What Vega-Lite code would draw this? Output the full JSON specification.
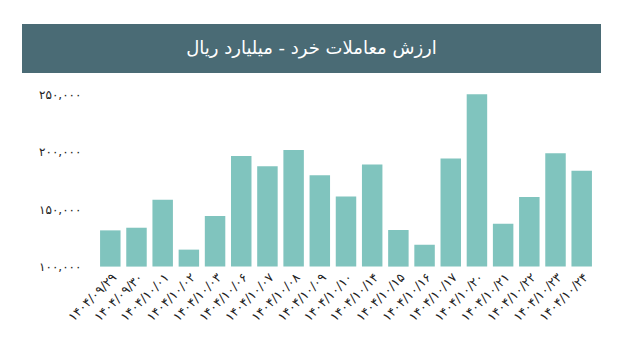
{
  "$schema": "https://vega.github.io/schema/vega-lite/v6.json",
  "background": "white",
  "padding": {"left": 22, "top": 24, "right": 0, "bottom": 0},
  "config": {
    "view": {"stroke": null},
    "font": "DejaVu Sans"
  },
  "spacing": 21.6,
  "bounds": "flush",
  "vconcat": [
    {
      "width": 579,
      "height": 49,
      "view": {"fill": "#4a6b75", "stroke": null},
      "data": {"values": [{"title": "ارزش معاملات خرد - میلیارد ریال"}]},
      "mark": {"type": "text", "color": "white", "fontSize": 18, "font": "DejaVu Sans"},
      "encoding": {"text": {"field": "title", "type": "nominal"}}
    },
    {
      "width": 573,
      "height": 172,
      "data": {
        "values": [
          {"date": "۱۴۰۴/۰۹/۲۹", "value": 131600},
          {"date": "۱۴۰۴/۰۹/۳۰", "value": 133900},
          {"date": "۱۴۰۴/۱۰/۰۱", "value": 158300},
          {"date": "۱۴۰۴/۱۰/۰۲", "value": 114800},
          {"date": "۱۴۰۴/۱۰/۰۳", "value": 144100},
          {"date": "۱۴۰۴/۱۰/۰۶", "value": 196500},
          {"date": "۱۴۰۴/۱۰/۰۷", "value": 187600},
          {"date": "۱۴۰۴/۱۰/۰۸", "value": 201700},
          {"date": "۱۴۰۴/۱۰/۰۹", "value": 179700},
          {"date": "۱۴۰۴/۱۰/۱۰", "value": 161100},
          {"date": "۱۴۰۴/۱۰/۱۴", "value": 189000},
          {"date": "۱۴۰۴/۱۰/۱۵", "value": 131900},
          {"date": "۱۴۰۴/۱۰/۱۶", "value": 119100},
          {"date": "۱۴۰۴/۱۰/۱۷", "value": 194200},
          {"date": "۱۴۰۴/۱۰/۲۰", "value": 250400},
          {"date": "۱۴۰۴/۱۰/۲۱", "value": 137400},
          {"date": "۱۴۰۴/۱۰/۲۲", "value": 160600},
          {"date": "۱۴۰۴/۱۰/۲۳", "value": 198900},
          {"date": "۱۴۰۴/۱۰/۲۴", "value": 183500}
        ]
      },
      "mark": {"type": "bar", "color": "#80c4be"},
      "encoding": {
        "x": {
          "field": "date",
          "type": "nominal",
          "sort": null,
          "scale": {"paddingInner": 0.218, "paddingOuter": 0.117, "range": [75, 573]},
          "axis": {
            "title": null,
            "domain": false,
            "ticks": false,
            "labelAngle": -45,
            "labelPadding": 4,
            "labelFontSize": 12.5,
            "labelColor": "#222222"
          }
        },
        "y": {
          "field": "value",
          "type": "quantitative",
          "scale": {"domain": [100000, 250000], "zero": false, "nice": false},
          "axis": {
            "title": null,
            "grid": false,
            "domain": false,
            "ticks": false,
            "offset": -75,
            "values": [100000, 150000, 200000, 250000],
            "labelPadding": 16,
            "labelAlign": "right",
            "labelFontSize": 12,
            "labelColor": "#222222",
            "labelExpr": "replace(replace(replace(replace(format(datum.value, ','), regexp('0','g'), '۰'), regexp('1','g'), '۱'), regexp('2','g'), '۲'), regexp('5','g'), '۵')"
          }
        },
        "y2": {"datum": 100000}
      }
    }
  ]
}
